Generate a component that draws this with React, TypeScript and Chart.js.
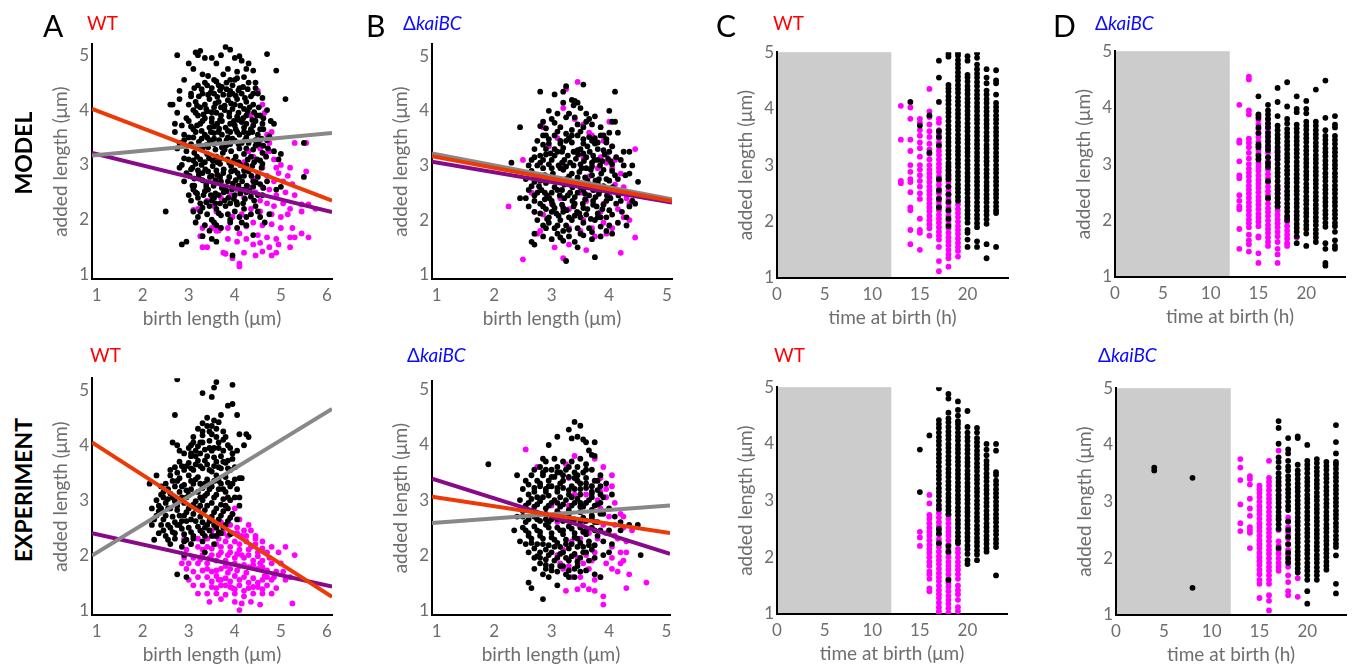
import React, { useEffect, useRef } from 'react';
import { Chart, registerables } from 'chart.js';
Chart.register(...registerables);

const FONT = 'Lato, "Open Sans", sans-serif';
const TXT = '#6e6e6e';
const ORANGE = '#ec3a06';
const GRAY = '#888888';
const PURPLE = '#880a88';
const MAGENTA = '#ff00ff';

// ---------- tick labels ----------
const lenTicks = [1, 2, 3, 4, 5];
const birthTicksA = [1, 2, 3, 4, 5, 6];
const birthTicksB = [1, 2, 3, 4, 5];
const timeTicks = [0, 5, 10, 15, 20];
const nightShade = [0, 12];

// ---------- A (MODEL, WT): birth length vs added length ----------
const aTopBlack = [
  2.75,5.0, 3.15,5.05, 3.2,5.0, 3.25,5.08, 3.35,4.95, 3.0,4.85, 3.1,4.75, 3.5,4.95, 3.6,4.85, 3.8,5.15, 3.9,5.1, 3.7,5.0,
  4.0,4.95, 4.1,4.98, 4.15,4.9, 4.3,4.85, 4.25,4.75, 4.4,4.72, 4.7,5.02, 4.9,4.72, 3.85,4.75, 4.05,4.7, 4.0,4.55, 3.75,4.65,
  3.3,4.65, 3.55,4.55, 3.9,4.55, 4.2,4.6, 2.9,4.55, 3.4,4.45, 3.65,4.45, 4.1,4.4, 4.45,4.5, 5.1,4.2, 2.65,4.1, 2.8,4.35, 3.05,4.3,
  3.2,4.45, 3.35,4.5, 3.5,4.4, 3.6,4.52, 3.72,4.42, 3.82,4.5, 3.95,4.45, 4.05,4.58, 4.18,4.42, 4.3,4.5, 3.42,4.62, 3.9,4.35,
  2.8,4.2, 3.05,4.25, 3.15,4.15, 3.3,4.3, 3.45,4.2, 3.55,4.3, 3.65,4.15, 3.75,4.28, 3.85,4.18, 3.95,4.3, 4.05,4.2, 4.15,4.3,
  4.25,4.15, 4.35,4.25, 4.5,4.3, 4.6,4.22, 3.35,4.1, 3.7,4.05, 4.0,4.1, 4.4,4.1,
  2.75,3.95, 2.95,3.85, 3.1,4.0, 3.2,3.9, 3.3,3.8, 3.4,3.98, 3.5,3.85, 3.6,3.95, 3.68,3.82, 3.78,4.0, 3.88,3.88, 3.98,3.8,
  4.08,3.95, 4.18,3.85, 4.28,3.98, 4.38,3.82, 4.48,3.9, 4.62,3.85, 4.78,3.8, 4.85,3.75, 3.25,4.05, 3.55,4.05, 3.95,4.02, 4.2,4.02,
  2.7,3.6, 2.9,3.55, 3.05,3.7, 3.15,3.6, 3.25,3.75, 3.35,3.55, 3.45,3.68, 3.55,3.58, 3.62,3.75, 3.72,3.55, 3.8,3.68, 3.9,3.6,
  4.0,3.72, 4.1,3.55, 4.2,3.68, 4.3,3.58, 4.4,3.72, 4.5,3.55, 4.62,3.65, 4.75,3.52, 3.0,3.5, 3.4,3.5, 3.85,3.5, 4.25,3.5, 3.5,3.78, 4.15,3.78,
  2.8,3.4, 2.95,3.25, 3.05,3.38, 3.12,3.22, 3.22,3.42, 3.3,3.3, 3.4,3.2, 3.48,3.4, 3.58,3.28, 3.66,3.45, 3.74,3.22, 3.82,3.36,
  3.92,3.25, 4.0,3.44, 4.1,3.3, 4.2,3.2, 4.3,3.4, 4.4,3.28, 4.52,3.38, 4.6,3.22, 4.72,3.3, 4.85,3.25, 5.0,3.2, 3.55,3.48, 3.95,3.48, 4.45,3.45,
  2.85,3.0, 3.0,3.1, 3.08,2.95, 3.18,3.15, 3.28,3.0, 3.36,2.92, 3.44,3.12, 3.52,2.98, 3.6,3.15, 3.68,3.02, 3.76,2.92, 3.84,3.1,
  3.92,2.98, 4.02,3.15, 4.12,3.0, 4.2,2.9, 4.28,3.1, 4.38,2.98, 4.48,3.1, 4.58,2.95, 3.2,2.9, 3.6,2.9, 4.0,2.9, 2.95,2.85,
  2.9,2.7, 3.02,2.8, 3.12,2.62, 3.22,2.75, 3.3,2.85, 3.38,2.65, 3.46,2.78, 3.54,2.62, 3.62,2.82, 3.7,2.7, 3.8,2.6, 3.88,2.78,
  3.96,2.66, 4.06,2.85, 4.16,2.7, 4.26,2.62, 4.36,2.8, 4.46,2.68, 4.62,2.58, 4.9,2.55, 3.1,2.55,
  3.05,2.35, 3.15,2.5, 3.25,2.3, 3.32,2.45, 3.42,2.55, 3.5,2.35, 3.58,2.48, 3.68,2.3, 3.76,2.5, 3.86,2.4, 3.94,2.55, 4.04,2.32,
  4.12,2.48, 4.22,2.38, 4.32,2.52, 4.42,2.35, 4.5,2.45, 3.0,2.45,
  3.1,2.15, 3.2,2.05, 3.3,2.22, 3.4,2.1, 3.5,2.0, 3.6,2.2, 3.7,2.08, 3.8,2.25, 3.9,2.0, 4.0,2.15, 4.1,2.05, 4.2,2.2, 4.35,2.1, 4.45,2.25, 4.55,2.05,
  3.35,1.9, 3.45,1.8, 3.55,1.95, 3.7,1.85, 3.9,1.95, 4.05,1.85, 4.25,1.9, 4.4,1.72, 3.3,1.7, 3.6,1.6, 2.85,1.55, 2.95,1.6,
  3.5,1.65, 3.95,1.35, 4.65,1.95, 4.75,2.1,
  2.5,2.15, 2.6,4.1, 2.7,3.75, 5.5,3.4, 5.5,2.78, 5.0,2.6, 4.95,3.1, 2.75,3.3, 2.8,2.95,
];
const aTopBlackCore = [
  3.28,4.38, 3.48,4.32, 3.68,4.36, 3.88,4.28, 4.08,4.36, 4.28,4.38, 4.45,4.4, 3.12,4.4,
  3.0,4.1, 3.18,4.08, 3.38,4.02, 3.58,4.12, 3.78,4.08, 3.92,4.12, 4.12,4.08, 4.32,4.05, 4.52,4.05, 4.7,4.0,
  2.85,3.72, 3.0,3.8, 3.18,3.72, 3.35,3.85, 3.55,3.7, 3.72,3.8, 3.9,3.75, 4.08,3.82, 4.25,3.75, 4.45,3.8, 4.6,3.75,
  2.9,3.45, 3.1,3.5, 3.28,3.48, 3.45,3.45, 3.65,3.6, 3.82,3.45, 4.05,3.6, 4.22,3.45, 4.38,3.6, 4.58,3.48, 4.7,3.45,
  2.9,3.12, 3.1,3.08, 3.25,3.1, 3.42,3.32, 3.62,3.05, 3.78,3.28, 3.98,3.08, 4.15,3.4, 4.35,3.15, 4.55,3.08, 4.68,3.15,
  3.05,2.92, 3.22,2.82, 3.42,2.88, 3.58,2.72, 3.75,2.85, 3.92,2.88, 4.1,2.78, 4.3,2.88, 4.5,2.78, 4.7,2.7,
  3.08,2.62, 3.2,2.4, 3.38,2.6, 3.55,2.4, 3.72,2.58, 3.9,2.3, 4.08,2.62, 4.25,2.5, 4.4,2.6, 4.6,2.45,
  3.25,2.15, 3.45,2.25, 3.65,2.12, 3.85,2.1, 4.05,2.28, 4.25,2.05, 4.5,2.15, 3.15,1.95, 3.6,1.9, 4.15,1.95,
];
const aTopBlackFill = [
  3.22,4.25, 3.42,4.28, 3.62,4.24, 3.82,4.38, 4.02,4.26, 4.22,4.22, 4.4,4.3,
  3.15,3.95, 3.32,3.92, 3.5,3.96, 3.7,3.9, 3.88,3.95, 4.05,3.88, 4.25,3.9, 4.42,3.96, 4.55,3.9,
  3.1,3.65, 3.28,3.62, 3.48,3.6, 3.66,3.66, 3.85,3.62, 4.02,3.65, 4.2,3.6, 4.35,3.65, 4.55,3.65,
  3.18,3.32, 3.38,3.36, 3.55,3.38, 3.72,3.32, 3.9,3.38, 4.08,3.38, 4.25,3.3, 4.45,3.35, 4.62,3.35,
  3.15,3.02, 3.35,3.05, 3.52,3.08, 3.7,3.12, 3.88,3.04, 4.08,3.05, 4.25,3.0, 4.42,3.05, 4.6,3.02,
  3.12,2.75, 3.3,2.72, 3.5,2.8, 3.68,2.78, 3.85,2.7, 4.02,2.72, 4.2,2.8, 4.4,2.7, 4.55,2.65,
  3.18,2.48, 3.35,2.52, 3.48,2.45, 3.65,2.45, 3.82,2.52, 4.0,2.45, 4.18,2.55, 4.35,2.42,
  3.38,2.32, 3.58,2.3, 3.78,2.35, 3.98,2.38, 4.18,2.3,
];
const aTopMagenta = [
  4.5,4.35, 4.7,3.55, 4.8,3.6, 5.3,3.4, 5.55,3.4, 4.55,3.3, 4.65,3.2, 4.75,3.25, 4.85,3.1, 4.4,3.15, 4.3,3.25, 5.0,3.0,
  5.2,2.95, 4.95,2.85, 4.6,2.95, 4.5,2.85, 4.7,2.8, 4.85,2.7, 5.05,2.7, 5.25,2.65, 5.55,2.88, 4.4,2.75, 4.6,2.6, 4.75,2.55,
  4.9,2.45, 5.1,2.5, 5.3,2.45, 4.45,2.5, 4.3,2.6, 4.2,2.4, 4.05,2.55, 3.9,2.45, 3.7,2.4, 3.55,2.25, 3.2,2.2, 3.4,2.35,
  4.55,2.35, 4.7,2.3, 4.85,2.25, 5.05,2.3, 5.2,2.2, 5.45,2.28, 5.6,2.28, 5.75,2.2, 4.35,2.2, 4.55,2.15, 4.8,2.1, 5.0,2.05,
  5.15,2.1, 5.45,2.15, 4.15,2.1, 3.95,2.05, 4.4,1.95, 4.6,1.9, 4.8,1.92, 5.0,1.85, 5.25,1.85, 4.25,1.88, 3.85,1.85, 3.65,1.8,
  3.5,1.85, 3.3,1.85, 4.1,1.75, 4.5,1.72, 4.7,1.68, 4.9,1.65, 5.2,1.68, 5.6,1.68, 5.3,1.68, 3.3,1.5, 3.4,1.5, 3.6,1.8,
  3.85,1.65, 4.05,1.6, 4.25,1.65, 4.4,1.55, 4.55,1.58, 4.75,1.5, 4.95,1.55, 5.2,1.5, 3.75,1.4, 4.1,1.15, 4.1,1.2, 4.45,1.35,
  4.6,1.42, 4.8,1.35, 4.9,1.4, 3.8,1.38, 3.95,1.3, 4.2,1.4, 5.45,1.75, 4.6,4.1, 4.65,3.95, 4.35,3.9, 4.55,3.45, 4.75,3.4,
  4.2,3.05, 4.9,2.95, 5.15,2.8, 3.6,2.15, 3.1,2.18, 3.25,1.7,
];
const aTopFitX = [0.9, 6.11];
const aTopOrange = [4.02, 2.35];
const aTopGray = [3.17, 3.58];
const aTopPurple = [3.22, 2.14];

// ---------- B (MODEL, ΔkaiBC) ----------
const bTopBlack = [
  3.25,4.45, 3.55,4.48, 2.8,4.35, 3.2,4.35, 3.05,4.3, 4.1,4.35, 3.35,4.2, 3.4,4.18, 3.45,4.15, 3.38,4.1, 3.2,4.15, 3.5,4.05,
  2.95,4.0, 3.1,3.95, 3.3,3.95, 3.6,3.95, 3.25,3.88, 4.0,4.0, 3.75,3.9, 4.05,3.8, 2.85,3.8, 3.05,3.78, 3.6,3.8, 3.45,3.75,
  2.8,3.72, 2.9,3.68, 3.15,3.7, 3.35,3.65, 3.55,3.7, 3.7,3.75, 3.85,3.7, 4.0,3.6, 2.45,3.7, 4.15,3.6,
  2.75,3.45, 2.85,3.55, 2.95,3.4, 3.05,3.55, 3.15,3.45, 3.25,3.58, 3.35,3.42, 3.45,3.55, 3.55,3.4, 3.65,3.52, 3.75,3.4,
  3.85,3.55, 3.95,3.42, 4.05,3.35, 2.9,3.3, 3.2,3.32, 3.5,3.3, 3.8,3.3, 4.25,3.25,
  2.6,3.0, 2.7,3.15, 2.8,3.05, 2.9,3.2, 3.0,3.1, 3.1,3.25, 3.18,3.05, 3.28,3.18, 3.38,3.0, 3.46,3.2, 3.56,3.08, 3.66,3.25,
  3.74,3.1, 3.84,3.0, 3.92,3.2, 4.02,3.08, 4.12,3.15, 4.25,3.0, 4.35,2.85, 2.3,3.05, 3.0,2.95, 3.6,2.95,
  2.55,2.75, 2.65,2.9, 2.75,2.8, 2.85,2.95, 2.92,2.72, 3.02,2.85, 3.12,2.75, 3.2,2.92, 3.3,2.8, 3.4,2.7, 3.48,2.88, 3.58,2.78,
  3.68,2.92, 3.76,2.72, 3.86,2.85, 3.95,2.75, 4.05,2.9, 4.15,2.75, 4.28,2.82, 3.25,2.98, 3.7,2.98,
  2.45,2.4, 2.6,2.55, 2.7,2.45, 2.78,2.62, 2.88,2.5, 2.96,2.4, 3.05,2.6, 3.14,2.45, 3.22,2.65, 3.32,2.5, 3.4,2.42, 3.5,2.6,
  3.58,2.48, 3.68,2.65, 3.76,2.42, 3.86,2.55, 3.96,2.45, 4.06,2.6, 4.16,2.45, 4.3,2.5, 4.4,2.35, 2.9,2.68, 3.35,2.68, 3.8,2.68,
  2.6,2.25, 2.7,2.15, 2.8,2.3, 2.9,2.2, 3.0,2.35, 3.08,2.12, 3.18,2.28, 3.26,2.18, 3.36,2.35, 3.44,2.15, 3.54,2.3, 3.62,2.2,
  3.72,2.35, 3.8,2.12, 3.9,2.28, 4.0,2.18, 4.12,2.3, 4.22,2.15, 4.35,2.25, 2.95,2.05, 3.5,2.05, 3.95,2.05,
  2.75,2.0, 2.85,1.9, 2.95,1.95, 3.05,1.85, 3.15,2.0, 3.25,1.9, 3.35,2.0, 3.45,1.85, 3.55,1.95, 3.65,1.85, 3.75,2.0, 3.85,1.88,
  4.0,1.9, 4.15,1.95, 4.3,1.9, 3.2,1.8,
  2.7,1.75, 2.85,1.7, 3.0,1.65, 3.1,1.75, 3.2,1.62, 3.3,1.7, 3.4,1.6, 3.55,1.72, 3.7,1.65, 3.85,1.7, 4.05,1.75, 2.65,1.6,
  2.7,1.55, 3.45,1.5, 3.25,1.25, 3.75,1.32, 3.15,1.68,
  4.1,3.8, 4.35,3.25, 4.5,2.7, 4.4,3.0, 4.45,2.3, 4.3,2.05, 2.55,2.4,
];
const bTopBlackCore = [
  2.9,3.55, 3.1,3.62, 3.3,3.5, 3.5,3.62, 3.7,3.45, 3.9,3.55, 3.0,3.85, 3.4,3.88, 3.65,3.85,
  2.7,3.3, 2.85,3.38, 3.05,3.3, 3.25,3.45, 3.45,3.28, 3.62,3.35, 3.8,3.42, 4.0,3.25,
  2.65,3.1, 2.85,3.1, 3.05,3.18, 3.22,3.1, 3.42,3.12, 3.6,3.15, 3.8,3.1, 3.98,3.12, 4.2,3.1,
  2.6,2.85, 2.8,2.72, 2.98,2.78, 3.15,2.95, 3.35,2.85, 3.52,2.95, 3.7,2.82, 3.9,2.92, 4.1,2.82,
  2.65,2.62, 2.82,2.55, 3.0,2.5, 3.18,2.55, 3.36,2.6, 3.55,2.55, 3.72,2.55, 3.9,2.62, 4.1,2.52,
  2.7,2.35, 2.88,2.38, 3.05,2.22, 3.22,2.4, 3.4,2.3, 3.58,2.38, 3.78,2.25, 3.95,2.35, 4.2,2.35,
  2.8,2.12, 3.0,2.15, 3.2,2.15, 3.4,2.08, 3.6,2.1, 3.8,2.05, 4.05,2.1,
  2.9,1.85, 3.1,1.9, 3.3,1.82, 3.5,1.75, 3.7,1.78, 3.95,1.8,
];
const bTopBlackFill = [
  2.95,3.48, 3.15,3.4, 3.35,3.55, 3.55,3.48, 3.75,3.5, 3.95,3.48,
  2.8,3.18, 2.98,3.22, 3.18,3.25, 3.38,3.25, 3.55,3.22, 3.72,3.18, 3.9,3.28,
  2.75,3.0, 2.95,3.02, 3.12,3.0, 3.32,3.05, 3.5,3.02, 3.7,3.05, 3.88,3.08, 4.05,3.02,
  2.7,2.7, 2.88,2.82, 3.08,2.7, 3.25,2.75, 3.45,2.78, 3.62,2.72, 3.82,2.75, 4.0,2.72,
  2.75,2.5, 2.92,2.45, 3.1,2.55, 3.28,2.45, 3.45,2.5, 3.65,2.45, 3.82,2.48, 4.02,2.4,
  2.85,2.25, 3.02,2.28, 3.2,2.22, 3.38,2.25, 3.55,2.22, 3.72,2.28, 3.88,2.2,
  2.92,2.02, 3.12,2.08, 3.3,2.05, 3.48,2.12, 3.68,2.02, 3.85,2.05,
];
const bTopMagenta = [
  3.25,4.4, 3.45,4.53, 2.5,3.1, 2.25,2.25, 2.5,1.28, 3.2,4.05, 3.3,3.95, 3.4,3.85, 3.55,3.75, 2.85,3.7, 3.7,3.55, 3.9,3.45,
  4.05,3.35, 4.45,3.3, 4.0,3.8, 3.85,3.15, 3.95,3.05, 4.05,2.95, 4.2,2.85, 4.1,2.65, 4.25,2.6, 4.3,2.4, 4.15,2.2, 4.25,2.05,
  4.35,2.0, 4.05,1.85, 4.2,1.4, 4.45,1.68, 4.4,2.35, 4.35,2.3, 3.6,1.45, 3.3,1.55, 3.05,1.5, 3.2,1.3, 3.5,1.8, 3.7,1.85,
  3.75,1.7, 3.9,1.95, 3.95,1.75, 2.8,1.8, 2.75,1.75, 2.7,2.15, 2.85,2.1, 2.65,2.5, 2.8,2.55, 3.0,2.3, 3.15,2.4, 3.3,2.2,
  3.5,2.5, 3.6,2.35, 3.75,2.55, 3.65,2.8, 3.8,2.95, 3.55,3.15, 3.4,3.25, 3.2,3.0, 3.0,2.8, 2.95,3.35, 3.1,3.5, 3.9,2.3,
  4.0,2.45, 3.85,2.15, 3.3,1.85, 3.55,2.0, 3.95,3.2, 4.1,3.1, 3.3,2.65, 3.65,3.6,
];
const bTopFitX = [0.92, 5.09];
const bTopOrange = [3.17, 2.35];
const bTopGray = [3.22, 2.38];
const bTopPurple = [3.07, 2.32];

// ---------- C (MODEL, WT): time at birth, columns [hour, added lengths] ----------
const cTopMagenta: [number, number[]][] = [
  [13, [4.05, 3.45, 2.72, 2.68]],
  [14, [4.02, 3.82, 3.45, 3.25, 3.0, 2.88, 2.75, 2.7, 2.52, 2.25, 2.2, 1.85, 1.6]],
  [15, [3.82, 3.75, 3.62, 3.52, 3.4, 3.3, 3.15, 3.0, 2.92, 2.82, 2.72, 2.62, 2.5, 2.4, 2.05, 1.85, 1.8, 1.5]],
  [16, [4.35, 3.95, 3.85, 3.72, 3.6, 3.5, 3.38, 3.28, 3.2, 3.1, 3.0, 2.92, 2.85, 2.78, 2.7, 2.62, 2.55, 2.48, 2.4, 2.32, 2.25, 2.18, 2.1, 2.02, 1.95, 1.88, 1.75]],
  [17, [3.82, 3.75, 3.62, 3.55, 3.48, 3.4, 3.32, 3.25, 3.18, 3.1, 3.02, 2.95, 2.88, 2.8, 2.72, 2.65, 2.58, 2.5, 2.42, 2.35, 2.28, 2.2, 2.12, 2.05, 1.98, 1.9, 1.82, 1.75, 1.68, 1.55, 1.3, 1.12]],
  [18, [3.0, 2.92, 2.85, 2.78, 2.7, 2.62, 2.55, 2.48, 2.4, 2.32, 2.25, 2.18, 2.1, 2.02, 1.95, 1.88, 1.8, 1.72, 1.65, 1.58, 1.5, 1.42, 1.35, 1.2]],
  [19, [2.3, 2.22, 2.15, 2.08, 2.0, 1.92, 1.85, 1.78, 1.7, 1.62, 1.55, 1.48, 1.38]],
];
const cTopBlack: [number, number[]][] = [
  [14, [4.12]],
  [15, [3.7]],
  [16, [3.22, 3.88]],
  [17, [4.85, 4.55, 4.12, 3.6, 3.5, 3.35, 2.75, 2.55, 2.4, 2.25]],
  [18, [4.97, 4.92, 4.42, 4.36, 4.3, 4.22, 4.15, 4.08, 4.0, 3.93, 3.86, 3.78, 3.7, 3.63, 3.56, 3.48, 3.41, 3.34, 3.26, 3.19, 3.12, 3.04, 2.97, 2.9, 2.82, 2.75, 2.62, 2.48, 2.35, 2.2, 2.05, 1.92]],
  [19, [4.98, 4.94, 4.86, 4.79, 4.72, 4.64, 4.57, 4.5, 4.42, 4.35, 4.28, 4.2, 4.13, 4.06, 3.98, 3.91, 3.84, 3.76, 3.69, 3.62, 3.54, 3.47, 3.4, 3.32, 3.25, 3.18, 3.1, 3.03, 2.96, 2.88, 2.81, 2.74, 2.66, 2.59, 2.52, 2.44, 2.37]],
  [20, [4.93, 4.85, 4.6, 4.55, 4.48, 4.4, 4.33, 4.26, 4.18, 4.11, 4.04, 3.96, 3.89, 3.82, 3.74, 3.67, 3.6, 3.52, 3.45, 3.38, 3.3, 3.23, 3.16, 3.08, 3.01, 2.94, 2.86, 2.79, 2.72, 2.64, 2.57, 2.5, 2.42, 2.35, 2.28, 2.2, 2.13, 2.06, 1.98, 1.85, 1.8, 1.68, 1.55]],
  [21, [4.98, 4.9, 4.78, 4.7, 4.62, 4.55, 4.47, 4.4, 4.32, 4.25, 4.18, 4.1, 4.03, 3.96, 3.88, 3.81, 3.74, 3.66, 3.59, 3.52, 3.44, 3.37, 3.3, 3.22, 3.15, 3.08, 3.0, 2.93, 2.86, 2.78, 2.71, 2.64, 2.56, 2.49, 2.42, 2.34, 2.27, 2.2, 2.12, 2.05, 1.97, 1.9, 1.65, 1.55]],
  [22, [4.7, 4.55, 4.45, 4.32, 4.25, 4.17, 4.1, 4.02, 3.95, 3.88, 3.8, 3.73, 3.66, 3.58, 3.51, 3.44, 3.36, 3.29, 3.22, 3.14, 3.07, 3.0, 2.92, 2.85, 2.78, 2.7, 2.63, 2.56, 2.48, 2.41, 2.34, 2.26, 2.19, 2.12, 2.04, 1.96, 1.6, 1.35]],
  [23, [4.68, 4.5, 4.45, 4.25, 4.1, 4.03, 3.96, 3.88, 3.81, 3.74, 3.66, 3.59, 3.52, 3.44, 3.37, 3.3, 3.22, 3.15, 3.08, 3.0, 2.93, 2.86, 2.78, 2.71, 2.64, 2.56, 2.49, 2.42, 2.34, 2.27, 2.2, 2.15, 1.55]],
];

// ---------- D (MODEL, ΔkaiBC) ----------
const dTopMagenta: [number, number[]][] = [
  [13, [4.05, 3.42, 3.38, 3.05, 2.8, 2.75, 2.45, 2.35, 2.25, 2.2, 1.85, 1.5]],
  [14, [4.55, 4.5, 3.95, 3.88, 3.45, 3.38, 3.3, 3.2, 3.1, 3.0, 2.92, 2.85, 2.78, 2.7, 2.62, 2.55, 2.48, 2.4, 2.32, 2.25, 2.18, 2.1, 2.02, 1.95, 1.88, 1.75, 1.65, 1.58, 1.45]],
  [15, [3.85, 3.78, 3.7, 3.62, 3.55, 3.48, 3.4, 3.32, 3.25, 3.18, 3.1, 3.02, 2.95, 2.88, 2.8, 2.72, 2.65, 2.58, 2.5, 2.42, 2.35, 2.28, 2.2, 2.12, 2.05, 1.98, 1.9, 1.72, 1.7, 1.42, 1.25]],
  [16, [3.8, 3.72, 3.65, 3.58, 3.5, 3.42, 3.35, 3.28, 3.2, 3.12, 3.05, 2.98, 2.9, 2.82, 2.75, 2.68, 2.6, 2.52, 2.45, 2.38, 2.3, 2.22, 2.15, 2.08, 2.0, 1.92, 1.85, 1.78, 1.7, 1.62, 1.55]],
  [17, [3.25, 3.2, 3.1, 2.6, 2.55, 2.48, 2.4, 2.32, 2.25, 2.18, 2.1, 2.02, 1.95, 1.88, 1.8, 1.72, 1.62, 1.5, 1.4, 1.25]],
  [18, [2.05, 1.98, 1.9, 1.82, 1.75, 1.68, 1.6, 1.55]],
  [19, [1.7]],
];
const dTopBlack: [number, number[]][] = [
  [15, [4.2, 3.88, 3.82, 3.65, 3.55, 3.35, 3.3, 3.15, 3.08]],
  [16, [4.05, 3.95, 3.88, 3.8, 3.72, 3.65, 3.55, 3.48, 3.4, 3.32, 3.25, 3.12, 3.02, 2.95, 2.7, 2.4]],
  [17, [4.35, 4.1, 3.85, 3.68, 3.6, 3.52, 3.45, 3.38, 3.3, 3.22, 3.15, 3.08, 3.0, 2.92, 2.85, 2.78, 2.7, 2.62, 2.55, 2.48, 2.4, 2.32, 2.25]],
  [18, [4.45, 4.02, 3.8, 3.72, 3.62, 3.55, 3.48, 3.4, 3.33, 3.26, 3.18, 3.11, 3.04, 2.96, 2.89, 2.82, 2.74, 2.67, 2.6, 2.52, 2.45, 2.38, 2.3, 2.23, 2.16, 2.08, 2.01]],
  [19, [4.2, 3.98, 3.92, 3.7, 3.63, 3.56, 3.48, 3.41, 3.34, 3.26, 3.19, 3.12, 3.04, 2.97, 2.9, 2.82, 2.75, 2.68, 2.6, 2.53, 2.46, 2.38, 2.31, 2.24, 2.16, 2.09, 2.02, 1.94, 1.87, 1.8, 1.72, 1.6]],
  [20, [4.12, 3.98, 3.9, 3.75, 3.68, 3.61, 3.53, 3.46, 3.39, 3.31, 3.24, 3.17, 3.09, 3.02, 2.95, 2.87, 2.8, 2.73, 2.65, 2.58, 2.51, 2.43, 2.36, 2.29, 2.21, 2.14, 2.07, 1.99, 1.92, 1.85, 1.77, 1.55]],
  [21, [4.32, 3.75, 3.68, 3.6, 3.53, 3.46, 3.38, 3.31, 3.24, 3.16, 3.09, 3.02, 2.94, 2.87, 2.8, 2.72, 2.65, 2.58, 2.5, 2.43, 2.36, 2.28, 2.21, 2.14, 2.06, 1.99, 1.92, 1.84, 1.77, 1.7, 1.62]],
  [22, [4.48, 3.82, 3.6, 3.5, 3.43, 3.36, 3.28, 3.21, 3.14, 3.06, 2.99, 2.92, 2.84, 2.77, 2.7, 2.62, 2.55, 2.48, 2.4, 2.33, 2.26, 2.18, 2.11, 2.04, 1.96, 1.89, 1.6, 1.5, 1.25, 1.2]],
  [23, [3.85, 3.7, 3.65, 3.5, 3.43, 3.36, 3.28, 3.21, 3.14, 3.06, 2.99, 2.92, 2.84, 2.77, 2.7, 2.62, 2.55, 2.48, 2.4, 2.33, 2.26, 2.18, 2.11, 2.04, 1.96, 1.9, 1.8, 1.65, 1.55, 1.5]],
];

// ---------- A (EXPERIMENT, WT) ----------
const aBotBlack = [
  2.75,5.2, 3.6,5.15, 3.55,5.05, 3.95,5.1, 3.3,4.95, 3.5,4.88, 3.85,4.72, 3.95,4.75, 2.7,4.55, 3.7,4.55, 4.05,4.55, 3.55,4.45,
  3.4,4.5, 3.5,4.35, 3.3,4.4, 3.6,4.3, 3.75,4.25, 3.65,4.42, 3.45,4.25, 3.2,4.3, 3.1,4.15, 3.3,4.18, 4.1,4.2, 4.25,4.2,
  4.3,4.15, 2.65,4.05, 2.75,4.0, 3.0,3.95,
  2.9,3.85, 3.05,4.0, 3.15,3.9, 3.25,4.05, 3.35,3.92, 3.45,4.08, 3.55,3.95, 3.65,4.05, 3.75,3.9, 3.85,4.0, 3.95,3.85, 3.4,3.8, 3.7,3.8, 2.8,3.9,
  2.7,3.6, 2.8,3.7, 2.9,3.55, 3.0,3.68, 3.1,3.55, 3.2,3.72, 3.3,3.58, 3.4,3.65, 3.5,3.52, 3.6,3.7, 3.7,3.58, 3.8,3.68,
  3.9,3.55, 4.0,3.6, 4.1,3.4, 3.15,3.8, 3.55,3.78, 3.95,3.75, 2.6,3.55,
  2.5,3.3, 2.6,3.45, 2.7,3.25, 2.8,3.4, 2.9,3.28, 3.0,3.45, 3.1,3.3, 3.2,3.42, 3.3,3.22, 3.4,3.38, 3.5,3.25, 3.6,3.45,
  3.7,3.3, 3.8,3.42, 3.9,3.25, 4.0,3.38, 4.05,3.2, 2.15,3.3, 2.3,3.45, 2.45,3.15,
  2.3,3.0, 2.4,3.1, 2.5,2.95, 2.6,3.12, 2.7,2.98, 2.8,3.15, 2.9,2.95, 3.0,3.1, 3.1,2.92, 3.2,3.15, 3.3,3.0, 3.4,3.12,
  3.5,2.95, 3.6,3.1, 3.7,2.92, 3.8,3.15, 3.9,3.0, 4.0,3.05, 2.2,2.85, 3.25,2.9,
  2.25,2.65, 2.35,2.8, 2.45,2.65, 2.55,2.85, 2.65,2.7, 2.75,2.82, 2.85,2.62, 2.95,2.78, 3.05,2.65, 3.15,2.85, 3.25,2.7,
  3.35,2.82, 3.45,2.62, 3.55,2.78, 3.65,2.65, 3.75,2.8, 3.85,2.62, 3.95,2.75, 4.05,2.65, 2.2,2.55, 2.4,2.55,
  2.35,2.4, 2.5,2.35, 2.6,2.5, 2.7,2.4, 2.8,2.55, 2.9,2.38, 3.0,2.5, 3.1,2.35, 3.2,2.52, 3.3,2.4, 3.4,2.55, 3.5,2.35,
  3.6,2.5, 3.7,2.4, 3.8,2.55, 3.9,2.38, 2.25,2.28,
  2.6,2.2, 2.85,2.15, 3.05,2.2, 3.3,2.25, 3.55,2.2, 2.9,2.0, 3.35,2.05, 2.75,1.65, 2.95,1.6,
  4.1,3.05, 4.15,3.4, 4.2,4.0, 4.05,3.9, 4.1,2.9,
];
const aBotBlackCore = [
  3.3,4.05, 3.5,4.2, 3.4,4.35, 3.6,4.15, 3.2,3.98, 3.05,3.85, 3.5,3.9, 3.75,4.1, 3.9,3.95,
  2.95,3.62, 3.15,3.65, 3.35,3.72, 3.55,3.62, 3.75,3.7, 3.85,3.58, 2.75,3.5, 3.05,3.8,
  2.55,3.2, 2.75,3.35, 2.95,3.18, 3.15,3.38, 3.35,3.3, 3.55,3.35, 3.75,3.2, 3.95,3.3, 2.4,3.25,
  2.35,2.9, 2.55,3.02, 2.75,2.9, 2.95,3.05, 3.15,2.98, 3.35,3.08, 3.55,3.05, 3.75,3.02, 3.85,2.85,
  2.3,2.72, 2.5,2.72, 2.7,2.6, 2.9,2.72, 3.1,2.75, 3.3,2.6, 3.5,2.7, 3.7,2.72, 3.9,2.68,
  2.45,2.45, 2.65,2.42, 2.85,2.48, 3.05,2.42, 3.25,2.45, 3.45,2.45, 3.65,2.42, 2.55,2.28, 2.95,2.28,
];
const aBotBlackFill = [
  3.1,4.05, 3.3,4.25, 3.45,3.95, 3.65,3.95, 3.8,4.15, 3.25,3.85,
  2.85,3.62, 3.05,3.58, 3.25,3.62, 3.45,3.55, 3.65,3.6, 3.85,3.72,
  2.65,3.35, 2.85,3.25, 3.05,3.35, 3.25,3.3, 3.45,3.3, 3.65,3.35, 3.85,3.32,
  2.45,3.05, 2.65,3.05, 2.85,3.05, 3.05,3.2, 3.25,3.05, 3.45,3.2, 3.65,3.2, 3.85,3.05,
  2.4,2.85, 2.6,2.85, 2.8,2.72, 3.0,2.85, 3.2,2.85, 3.4,2.9, 3.6,2.85, 3.8,2.9,
  2.55,2.55, 2.75,2.55, 2.95,2.62, 3.15,2.62, 3.35,2.5, 3.55,2.55, 3.75,2.5,
  2.7,2.3, 2.9,2.25, 3.1,2.3, 3.35,2.35, 3.6,2.35,
];
const aBotMagenta = [
  3.8,2.9, 3.95,2.75, 4.1,2.65, 3.7,2.6, 3.9,2.55, 4.05,2.5, 4.2,2.45, 4.35,2.45, 4.45,2.35, 4.15,2.35, 3.95,2.4, 3.75,2.4,
  3.55,2.35, 3.4,2.3, 3.2,2.3, 3.05,2.2, 2.95,2.1, 3.2,2.15, 3.4,2.15, 3.6,2.2, 3.8,2.25, 4.0,2.25, 4.25,2.25, 4.45,2.2,
  4.6,2.25, 4.8,2.15, 5.1,2.15, 4.95,2.05, 4.7,2.05, 4.5,2.05, 4.3,2.1, 4.1,2.1, 3.9,2.05, 3.7,2.05, 3.5,2.0, 3.3,2.0,
  3.1,1.95, 2.9,1.95, 3.0,1.85, 3.2,1.85, 3.4,1.85, 3.6,1.9, 3.8,1.9, 4.0,1.95, 4.2,1.95, 4.4,1.9, 4.6,1.9, 4.8,1.85,
  5.0,1.85, 4.9,1.7, 4.7,1.72, 4.5,1.75, 4.3,1.78, 4.1,1.8, 3.9,1.75, 3.7,1.75, 3.5,1.7, 3.3,1.72, 3.1,1.7, 2.95,1.75,
  3.0,1.55, 3.2,1.6, 3.4,1.6, 3.6,1.62, 3.8,1.58, 4.0,1.62, 4.2,1.6, 4.4,1.58, 4.6,1.55, 4.8,1.55, 5.1,1.55, 5.2,1.6,
  4.85,1.6, 3.1,1.45, 3.3,1.45, 3.5,1.42, 3.7,1.45, 3.9,1.42, 4.1,1.45, 4.3,1.4, 4.5,1.42, 4.7,1.45, 4.9,1.4, 3.2,1.3,
  3.4,1.3, 3.6,1.3, 3.8,1.28, 4.0,1.3, 4.2,1.25, 4.4,1.3, 4.6,1.3, 4.8,1.3, 3.45,1.15, 3.7,1.2, 4.0,1.15, 4.15,1.12,
  4.35,1.15, 4.55,1.1, 4.1,1.0, 5.25,1.12, 2.9,2.3, 2.85,1.85, 3.95,1.4, 4.65,1.62, 4.55,1.85, 4.25,1.68, 4.05,1.72,
  3.85,1.68, 3.65,1.55, 4.75,1.95, 4.15,2.0, 4.3,2.55, 4.0,2.85, 5.05,1.7, 5.3,2.0,
  3.5,2.45, 3.65,2.3, 3.85,2.35, 4.05,2.4, 4.25,2.35, 4.45,2.3, 3.3,2.1, 3.5,2.12, 3.7,2.15, 3.9,2.15, 4.1,2.2, 4.35,2.15,
  4.6,2.12, 3.25,1.92, 3.45,1.95, 3.65,2.0, 3.85,2.0, 4.05,2.02, 4.3,2.0, 4.5,1.98, 3.4,1.75, 3.6,1.72, 3.8,1.8, 4.0,1.85,
  4.2,1.82, 4.4,1.82, 4.6,1.78, 3.5,1.52, 3.7,1.55, 3.9,1.52, 4.1,1.55, 4.3,1.5, 4.5,1.5, 4.7,1.6, 3.6,1.4, 3.8,1.45,
  4.0,1.38, 4.2,1.35, 4.4,1.42, 4.6,1.38,
];
const aBotFitX = [0.9, 6.11];
const aBotOrange = [4.05, 1.24];
const aBotGray = [1.99, 4.66];
const aBotPurple = [2.4, 1.43];

// ---------- B (EXPERIMENT, ΔkaiBC) ----------
const bBotBlack = [
  3.4,4.42, 3.5,4.35, 3.3,4.28, 3.45,4.15, 3.55,4.1, 3.1,4.15, 3.35,4.12, 2.95,4.0, 3.6,4.05, 3.75,4.05, 3.65,3.9, 3.7,3.82,
  3.75,3.8, 1.9,3.65, 3.05,3.75, 2.85,3.75, 2.9,3.7, 3.2,3.7, 3.35,3.7, 3.5,3.75, 3.6,3.65, 3.45,3.6, 3.3,3.6, 3.1,3.6,
  2.7,3.55, 2.8,3.6, 3.0,3.55, 3.15,3.5, 3.4,3.5, 3.55,3.5, 3.7,3.55, 3.85,3.45, 3.95,3.3, 4.05,3.1, 2.4,3.45, 2.55,3.35,
  2.65,3.45, 2.75,3.35, 2.85,3.45, 2.95,3.35, 3.05,3.42, 3.2,3.35, 3.3,3.42, 3.45,3.35, 3.6,3.4, 3.75,3.35, 3.85,3.25,
  2.5,3.2, 2.6,3.28, 2.7,3.15, 2.8,3.25, 2.9,3.15, 3.0,3.25, 3.1,3.15, 3.2,3.22, 3.3,3.1, 3.4,3.2, 3.5,3.1, 3.6,3.22,
  3.7,3.12, 3.8,3.18, 3.9,3.05,
  2.45,3.0, 2.55,2.9, 2.65,3.02, 2.75,2.92, 2.85,3.05, 2.95,2.9, 3.05,3.0, 3.15,2.88, 3.25,3.0, 3.35,2.9, 3.45,3.02,
  3.55,2.88, 3.65,3.0, 3.75,2.9, 3.85,2.95, 4.0,2.85, 4.1,2.7,
  2.4,2.7, 2.5,2.8, 2.6,2.65, 2.7,2.78, 2.8,2.62, 2.9,2.75, 3.0,2.65, 3.1,2.8, 3.2,2.62, 3.3,2.75, 3.4,2.65, 3.5,2.78,
  3.6,2.62, 3.7,2.72, 3.8,2.6, 3.9,2.75, 4.2,2.6, 4.35,2.55, 4.5,2.55,
  2.35,2.45, 2.5,2.5, 2.6,2.4, 2.7,2.52, 2.8,2.42, 2.9,2.55, 3.0,2.4, 3.1,2.5, 3.2,2.38, 3.3,2.52, 3.4,2.4, 3.5,2.5,
  3.6,2.38, 3.7,2.5, 3.85,2.45, 4.0,2.45, 4.2,2.45,
  2.45,2.25, 2.55,2.2, 2.65,2.3, 2.75,2.2, 2.85,2.3, 2.95,2.18, 3.05,2.28, 3.15,2.15, 3.25,2.28, 3.35,2.2, 3.45,2.3,
  3.55,2.15, 3.65,2.25, 3.75,2.18, 3.9,2.25, 4.05,2.2,
  2.6,2.05, 2.7,1.95, 2.8,2.05, 2.9,1.92, 3.0,2.05, 3.1,1.95, 3.2,2.05, 3.3,1.9, 3.4,2.02, 3.5,1.95, 3.6,2.05, 3.75,1.95,
  3.9,2.0, 4.0,2.05, 4.55,2.0,
  2.7,1.75, 2.8,1.85, 2.9,1.75, 3.0,1.8, 3.1,1.7, 3.2,1.8, 3.3,1.72, 3.45,1.8, 3.6,1.72, 3.75,1.65, 3.85,1.6, 2.85,1.65,
  2.95,1.6, 2.6,1.5, 2.65,1.4, 2.85,1.2, 3.1,1.45, 3.3,1.6, 3.4,1.6,
];
const bBotBlackCore = [
  2.9,3.55, 3.1,3.5, 3.25,3.55, 3.45,3.45, 3.6,3.55, 2.8,3.3, 2.95,3.25, 3.15,3.3, 3.35,3.25, 3.5,3.3, 3.7,3.25, 3.85,3.1,
  2.6,3.1, 2.75,3.05, 2.95,3.08, 3.15,3.05, 3.35,3.05, 3.5,2.95, 3.7,3.05, 2.55,2.85, 2.7,2.88, 2.9,2.85, 3.1,2.95,
  3.3,2.82, 3.5,2.88, 3.7,2.82, 3.85,2.75, 2.55,2.6, 2.75,2.65, 2.95,2.6, 3.15,2.7, 3.35,2.6, 3.55,2.68, 3.75,2.6,
  2.6,2.35, 2.8,2.35, 3.0,2.32, 3.2,2.45, 3.4,2.32, 3.6,2.45, 3.8,2.35, 2.7,2.12, 2.9,2.1, 3.1,2.22, 3.3,2.12,
  3.5,2.22, 3.7,2.1, 2.8,1.95, 3.05,1.9, 3.25,1.95, 3.45,1.88, 3.65,1.9, 3.0,1.72, 3.25,1.65, 3.5,1.7,
];
const bBotBlackFill = [
  3.0,3.42, 3.2,3.45, 3.4,3.4, 3.6,3.3, 3.8,3.35, 2.85,3.5,
  2.7,3.22, 2.9,3.2, 3.1,3.22, 3.3,3.18, 3.5,3.2, 3.7,3.15,
  2.6,2.95, 2.8,2.98, 3.0,2.95, 3.2,2.92, 3.4,2.95, 3.6,2.95, 3.8,2.92,
  2.5,2.7, 2.7,2.7, 2.9,2.65, 3.1,2.65, 3.3,2.68, 3.5,2.62, 3.7,2.68,
  2.55,2.45, 2.75,2.45, 2.95,2.5, 3.15,2.45, 3.35,2.48, 3.55,2.42, 3.75,2.45,
  2.65,2.22, 2.85,2.2, 3.05,2.15, 3.25,2.2, 3.45,2.15, 3.65,2.18,
  2.75,1.98, 2.95,2.0, 3.15,2.02, 3.35,1.98, 3.55,2.05, 2.9,1.82, 3.15,1.8, 3.4,1.75,
];
const bBotMagenta = [
  2.55,3.92, 2.75,3.6, 3.85,3.4, 3.75,3.75, 3.9,3.6, 4.05,3.45, 3.95,3.2, 4.05,3.25, 3.85,3.15, 3.8,3.0, 3.7,3.25, 3.6,3.1,
  3.95,3.05, 4.1,2.95, 4.2,2.75, 4.25,2.7, 4.1,2.55, 4.25,2.5, 4.4,2.45, 4.3,2.25, 4.1,2.35, 3.95,2.4, 4.05,2.15, 4.2,2.05,
  4.05,1.95, 4.2,1.85, 4.35,1.65, 4.3,1.4, 4.65,1.5, 3.9,1.25, 3.9,1.1, 3.85,1.6, 3.65,1.75, 3.7,1.9, 3.55,1.85, 3.45,1.95,
  3.6,2.0, 3.75,2.05, 3.8,2.3, 3.65,2.4, 3.5,2.3, 3.35,2.25, 3.2,2.1, 3.1,2.0, 3.15,1.85, 3.3,1.8, 3.5,1.6, 3.55,1.45,
  3.45,1.38, 3.65,1.38, 3.75,1.35, 3.25,1.35, 3.0,2.9, 3.15,2.75, 3.3,2.9, 3.4,3.1, 3.3,3.4, 3.25,3.65, 3.4,3.8, 3.1,2.6,
  3.55,2.6, 3.7,2.7, 3.85,2.85, 4.0,2.7, 3.9,2.55, 3.6,2.95, 4.3,2.05, 4.15,2.3, 4.25,1.9, 4.15,1.7, 4.05,1.75, 3.95,1.85,
  3.75,1.55, 3.35,1.6, 3.2,1.75,
];
const bBotFitX = [0.92, 5.06];
const bBotOrange = [3.06, 2.4];
const bBotGray = [2.58, 2.9];
const bBotPurple = [3.39, 2.02];

// ---------- C (EXPERIMENT, WT) ----------
const cBotMagenta: [number, number[]][] = [
  [15, [2.45, 2.35, 2.2]],
  [16, [3.1, 2.95, 2.75, 2.68, 2.6, 2.52, 2.45, 2.38, 2.3, 2.22, 2.15, 2.08, 2.0, 1.92, 1.85, 1.75, 1.7, 1.62, 1.45, 1.4]],
  [17, [2.85, 2.78, 2.7, 2.62, 2.55, 2.48, 2.4, 2.32, 2.25, 2.18, 2.1, 2.02, 1.95, 1.88, 1.8, 1.72, 1.65, 1.58, 1.5, 1.42, 1.35, 1.28, 1.2, 1.12, 1.05, 1.0]],
  [18, [2.75, 2.68, 2.6, 2.52, 2.45, 2.38, 2.3, 2.22, 2.15, 2.08, 2.0, 1.92, 1.85, 1.78, 1.7, 1.62, 1.55, 1.48, 1.4, 1.32, 1.25, 1.18, 1.1, 1.02]],
  [19, [2.15, 2.08, 2.0, 1.92, 1.85, 1.78, 1.7, 1.62, 1.5, 1.42, 1.35, 1.25, 1.12, 1.05]],
];
const cBotBlack: [number, number[]][] = [
  [15, [3.9, 3.15]],
  [16, [4.15]],
  [17, [4.98, 4.42, 4.35, 4.28, 4.2, 4.12, 4.05, 3.98, 3.9, 3.82, 3.75, 3.68, 3.6, 3.52, 3.45, 3.38, 3.3, 3.22, 3.15, 3.08, 3.0, 2.92, 2.85, 2.5, 2.42, 2.25]],
  [18, [4.88, 4.8, 4.55, 4.45, 4.38, 4.3, 4.22, 4.15, 4.08, 4.0, 3.93, 3.86, 3.78, 3.71, 3.64, 3.56, 3.49, 3.42, 3.34, 3.27, 3.2, 3.12, 3.05, 2.98, 2.9, 2.83, 2.76, 2.2, 2.1, 1.6]],
  [19, [4.75, 4.6, 4.5, 4.4, 4.35, 4.28, 4.2, 4.13, 4.06, 3.98, 3.91, 3.84, 3.76, 3.69, 3.62, 3.54, 3.47, 3.4, 3.32, 3.25, 3.18, 3.1, 3.03, 2.96, 2.88, 2.81, 2.74, 2.66, 2.59, 2.52, 2.44, 2.37, 2.3, 2.25]],
  [20, [4.58, 4.3, 4.2, 4.12, 4.05, 3.97, 3.9, 3.83, 3.75, 3.68, 3.61, 3.53, 3.46, 3.39, 3.31, 3.24, 3.17, 3.09, 3.02, 2.95, 2.87, 2.8, 2.73, 2.65, 2.58, 2.51, 2.43, 2.36, 2.29, 2.21, 2.14, 2.06, 1.95, 1.88]],
  [21, [4.28, 4.2, 4.1, 4.03, 3.96, 3.88, 3.81, 3.74, 3.66, 3.59, 3.52, 3.44, 3.37, 3.3, 3.22, 3.15, 3.08, 3.0, 2.93, 2.86, 2.78, 2.71, 2.64, 2.56, 2.49, 2.42, 2.34, 2.27, 2.2, 2.12, 2.05, 1.95]],
  [22, [4.0, 3.9, 3.8, 3.7, 3.63, 3.56, 3.48, 3.41, 3.34, 3.26, 3.19, 3.12, 3.04, 2.97, 2.9, 2.82, 2.75, 2.68, 2.6, 2.53, 2.46, 2.38, 2.31, 2.24, 2.16, 2.1]],
  [23, [4.0, 3.88, 3.5, 3.45, 3.35, 3.28, 3.2, 3.13, 3.06, 2.98, 2.91, 2.84, 2.76, 2.69, 2.62, 2.54, 2.47, 2.4, 2.32, 2.25, 2.18, 1.68]],
];

// ---------- D (EXPERIMENT, ΔkaiBC) ----------
const dBotMagenta: [number, number[]][] = [
  [13, [3.75, 3.6, 3.38, 2.95, 2.62, 2.48]],
  [14, [3.45, 3.4, 3.3, 3.05, 2.88, 2.75, 2.55, 2.5, 2.45, 2.18]],
  [15, [3.28, 3.22, 3.15, 3.08, 3.0, 2.92, 2.85, 2.78, 2.7, 2.62, 2.55, 2.48, 2.4, 2.32, 2.25, 2.18, 2.1, 2.02, 1.95, 1.88, 1.8, 1.72, 1.62, 1.55, 1.3]],
  [16, [3.72, 3.42, 3.35, 3.28, 3.2, 3.12, 3.05, 2.98, 2.9, 2.82, 2.75, 2.68, 2.6, 2.52, 2.45, 2.38, 2.3, 2.22, 2.15, 2.08, 2.0, 1.92, 1.85, 1.78, 1.7, 1.62, 1.55, 1.35, 1.25, 1.08]],
  [17, [3.9, 3.42, 3.3, 3.2, 3.1, 2.9, 2.7, 2.5, 2.3, 2.22, 2.15, 2.08, 2.0, 1.92, 1.85, 1.78]],
  [18, [2.72, 2.65, 2.55, 2.45, 2.35, 2.25, 2.15, 2.05, 1.95, 1.85, 1.7, 1.58, 1.42, 1.35]],
  [19, [1.65, 1.32]],
];
const dBotBlack: [number, number[]][] = [
  [4, [3.6, 3.55]],
  [8, [3.42, 1.48]],
  [17, [4.42, 4.3, 4.02, 3.78, 3.7, 3.6, 3.5, 3.42, 3.35, 3.28, 3.2, 3.12, 3.05, 2.98, 2.9, 2.82, 2.75, 2.68, 2.6, 2.52, 2.18]],
  [18, [4.12, 3.92, 3.85, 3.72, 3.62, 3.55, 3.45, 3.38, 3.3, 3.22, 3.15, 3.08, 3.0, 2.92, 2.85, 2.65, 2.5, 2.38, 2.25, 2.1, 2.0, 1.92]],
  [19, [4.15, 4.12, 3.65, 3.55, 3.48, 3.4, 3.32, 3.25, 3.18, 3.1, 3.02, 2.95, 2.88, 2.8, 2.72, 2.65, 2.58, 2.5, 2.42, 2.35, 2.28, 2.2, 2.12, 2.05, 1.98, 1.9, 1.82, 1.75]],
  [20, [4.0, 3.72, 3.65, 3.58, 3.5, 3.42, 3.35, 3.28, 3.2, 3.12, 3.05, 2.98, 2.9, 2.82, 2.75, 2.68, 2.6, 2.52, 2.45, 2.38, 2.3, 2.22, 2.15, 2.08, 2.0, 1.92, 1.85, 1.78, 1.7, 1.62, 1.42, 1.2]],
  [21, [3.75, 3.68, 3.6, 3.53, 3.46, 3.38, 3.31, 3.24, 3.16, 3.09, 3.02, 2.94, 2.87, 2.8, 2.72, 2.65, 2.58, 2.5, 2.43, 2.36, 2.28, 2.21, 2.14, 2.06, 1.99, 1.92, 1.84, 1.77, 1.7, 1.62]],
  [22, [3.7, 3.63, 3.56, 3.48, 3.41, 3.34, 3.26, 3.19, 3.12, 3.04, 2.97, 2.9, 2.82, 2.75, 2.68, 2.6, 2.53, 2.46, 2.38, 2.31, 2.24, 2.16, 2.09, 2.02, 1.94, 1.87, 1.8]],
  [23, [4.35, 4.05, 3.85, 3.7, 3.65, 3.58, 3.5, 3.43, 3.36, 3.28, 3.21, 3.14, 3.06, 2.99, 2.92, 2.84, 2.77, 2.7, 2.62, 2.55, 2.48, 2.4, 2.33, 2.26, 2.2, 2.05, 1.55, 1.38]],
];

// ---------- helpers ----------
type Pt = { x: number; y: number };
const pairs = (a: number[]): Pt[] => {
  const out: Pt[] = [];
  for (let i = 0; i + 1 < a.length; i += 2) out.push({ x: a[i], y: a[i + 1] });
  return out;
};
const cols = (c: [number, number[]][]): Pt[] => c.flatMap(([t, ys]) => ys.map((y) => ({ x: t, y })));

const YW = 50; // y-axis box width
const XH = 52; // x-axis box height
const PT = 10;
const PR = 10;
const DOT = 2.9;

type Fit = { x: number[]; orange: number[]; gray: number[]; purple: number[] };
type PanelCfg = {
  id: string; L: number; R: number; T: number; B: number;
  xMin: number; xMax: number; yMin: number; yMax: number;
  xTicks: number[]; xTitle: string;
  black: Pt[]; magenta: Pt[]; fit?: Fit; shade?: boolean;
};

const panels: PanelCfg[] = [
  { id: 'aTop', L: 92, R: 332, T: 41, B: 279, xMin: 0.9, xMax: 6.11, yMin: 0.92, yMax: 5.2, xTicks: birthTicksA, xTitle: 'birth length (μm)',
    black: pairs([...aTopBlack, ...aTopBlackCore, ...aTopBlackFill]), magenta: pairs(aTopMagenta), fit: { x: aTopFitX, orange: aTopOrange, gray: aTopGray, purple: aTopPurple } },
  { id: 'bTop', L: 432, R: 672, T: 41, B: 279, xMin: 0.92, xMax: 5.09, yMin: 0.92, yMax: 5.22, xTicks: birthTicksB, xTitle: 'birth length (μm)',
    black: pairs([...bTopBlack, ...bTopBlackCore, ...bTopBlackFill]), magenta: pairs(bTopMagenta), fit: { x: bTopFitX, orange: bTopOrange, gray: bTopGray, purple: bTopPurple } },
  { id: 'cTop', L: 777, R: 1008, T: 49, B: 278, xMin: 0, xMax: 24.25, yMin: 1, yMax: 5, xTicks: timeTicks, xTitle: 'time at birth (h)',
    black: cols(cTopBlack), magenta: cols(cTopMagenta), shade: true },
  { id: 'dTop', L: 1115, R: 1345, T: 48, B: 277, xMin: 0, xMax: 24.05, yMin: 1, yMax: 5, xTicks: timeTicks, xTitle: 'time at birth (h)',
    black: cols(dTopBlack), magenta: cols(dTopMagenta), shade: true },
  { id: 'aBot', L: 92, R: 332, T: 375, B: 615, xMin: 0.9, xMax: 6.11, yMin: 0.91, yMax: 5.22, xTicks: birthTicksA, xTitle: 'birth length (μm)',
    black: pairs([...aBotBlack, ...aBotBlackCore, ...aBotBlackFill]), magenta: pairs(aBotMagenta), fit: { x: aBotFitX, orange: aBotOrange, gray: aBotGray, purple: aBotPurple } },
  { id: 'bBot', L: 432, R: 670, T: 378, B: 615, xMin: 0.92, xMax: 5.06, yMin: 0.91, yMax: 5.16, xTicks: birthTicksB, xTitle: 'birth length (μm)',
    black: pairs([...bBotBlack, ...bBotBlackCore, ...bBotBlackFill]), magenta: pairs(bBotMagenta), fit: { x: bBotFitX, orange: bBotOrange, gray: bBotGray, purple: bBotPurple } },
  { id: 'cBot', L: 777, R: 1007, T: 384, B: 614, xMin: 0, xMax: 24.15, yMin: 1, yMax: 5, xTicks: timeTicks, xTitle: 'time at birth (μm)',
    black: cols(cBotBlack), magenta: cols(cBotMagenta), shade: true },
  { id: 'dBot', L: 1116, R: 1346, T: 385, B: 615, xMin: 0, xMax: 24.05, yMin: 1, yMax: 5, xTicks: timeTicks, xTitle: 'time at birth (h)',
    black: cols(dBotBlack), magenta: cols(dBotMagenta), shade: true },
];

const shadePlugin = {
  id: 'shade',
  beforeDraw(chart: any) {
    const { ctx, scales } = chart;
    const x = scales.x, y = scales.y;
    const x0 = x.getPixelForValue(nightShade[0]);
    const x1 = x.getPixelForValue(nightShade[1]);
    const y0 = y.getPixelForValue(y.max);
    const y1 = y.getPixelForValue(y.min);
    ctx.save();
    ctx.fillStyle = '#cccccc';
    ctx.fillRect(x0, y0, x1 - x0, y1 - y0);
    ctx.restore();
  },
};

function axis(min: number, max: number, ticks: number[], title: string, isX: boolean) {
  return {
    type: 'linear',
    min,
    max,
    afterBuildTicks: (s: any) => { s.ticks = ticks.map((v) => ({ value: v })); },
    afterFit: (s: any) => { if (isX) s.height = XH; else s.width = YW; },
    grid: { display: false, drawTicks: false },
    border: { display: true, color: '#000000', width: 2 },
    ticks: {
      color: TXT,
      font: { family: FONT, size: 17 },
      padding: isX ? 6 : 3,
      autoSkip: false,
      maxRotation: 0,
      callback: (v: any) => String(v),
    },
    title: {
      display: true,
      text: title,
      color: TXT,
      font: { family: FONT, size: 19 },
      padding: isX ? { top: 0, bottom: 1 } : { top: 7, bottom: 0 },
    },
  };
}

function lineDs(xs: number[], ys: number[], color: string) {
  return {
    type: 'line',
    data: [{ x: xs[0], y: ys[0] }, { x: xs[1], y: ys[1] }],
    borderColor: color,
    backgroundColor: color,
    borderWidth: 4,
    pointRadius: 0,
    fill: false,
    tension: 0,
    borderCapStyle: 'butt',
  };
}

function pointDs(data: Pt[], color: string) {
  return {
    type: 'scatter',
    data,
    backgroundColor: color,
    pointBackgroundColor: color,
    borderWidth: 0,
    pointBorderWidth: 0,
    pointRadius: DOT,
  };
}

function Panel({ cfg }: { cfg: PanelCfg }) {
  const ref = useRef<HTMLCanvasElement>(null);
  const W = cfg.R - cfg.L + YW + PR;
  const H = cfg.B - cfg.T + PT + XH;
  useEffect(() => {
    if (!ref.current) return;
    const datasets: any[] = [];
    if (cfg.fit) {
      datasets.push(lineDs(cfg.fit.x, cfg.fit.orange, ORANGE));
      datasets.push(lineDs(cfg.fit.x, cfg.fit.gray, GRAY));
      datasets.push(lineDs(cfg.fit.x, cfg.fit.purple, PURPLE));
    }
    datasets.push(pointDs(cfg.black, '#000000'));
    datasets.push(pointDs(cfg.magenta, MAGENTA));
    const chart = new Chart(ref.current, {
      type: 'scatter',
      data: { datasets },
      options: {
        responsive: false,
        animation: false,
        devicePixelRatio: 1,
        events: [],
        layout: { padding: { top: PT, right: PR, left: 0, bottom: 0 } },
        plugins: { legend: { display: false }, tooltip: { enabled: false } },
        scales: {
          x: axis(cfg.xMin, cfg.xMax, cfg.xTicks, cfg.xTitle, true),
          y: axis(cfg.yMin, cfg.yMax, lenTicks, 'added length (μm)', false),
        },
      } as any,
      plugins: cfg.shade ? [shadePlugin as any] : [],
    } as any);
    return () => chart.destroy();
  }, []);
  return (
    <canvas
      ref={ref}
      width={W}
      height={H}
      style={{ position: 'absolute', left: cfg.L - YW, top: cfg.T - PT, width: W, height: H }}
    />
  );
}

const letterStyle = (left: number, top: number): React.CSSProperties => ({
  position: 'absolute', left, top, fontSize: 30, lineHeight: 1, color: '#000', fontFamily: FONT,
});
const strainStyle = (left: number, top: number, color: string): React.CSSProperties => ({
  position: 'absolute', left, top, fontSize: 19, lineHeight: 1, color, fontFamily: FONT, whiteSpace: 'nowrap',
});
const rowStyle = (cx: number, cy: number): React.CSSProperties => ({
  position: 'absolute', left: cx, top: cy, transform: 'translate(-50%, -50%) rotate(-90deg)',
  fontSize: 23, fontWeight: 700, lineHeight: 1, color: '#000', fontFamily: FONT, whiteSpace: 'nowrap',
});

const RED = '#ff0000';
const BLUE = '#0a0aff';

function Kai({ left, top }: { left: number; top: number }) {
  return (
    <div style={strainStyle(left, top, BLUE)}>
      <span>Δ</span><i>kaiBC</i>
    </div>
  );
}

export default function App() {
  return (
    <div style={{ position: 'absolute', left: 0, top: 0, width: 1355, height: 665, background: '#ffffff', overflow: 'hidden' }}>
      {panels.map((p) => <Panel key={p.id} cfg={p} />)}
      <div style={letterStyle(43, 10)}>A</div>
      <div style={letterStyle(366, 10)}>B</div>
      <div style={letterStyle(716, 10)}>C</div>
      <div style={letterStyle(1053, 10)}>D</div>
      <div style={strainStyle(87, 13, RED)}>WT</div>
      <Kai left={403} top={13} />
      <div style={strainStyle(773, 13, RED)}>WT</div>
      <Kai left={1095} top={13} />
      <div style={strainStyle(90, 345, RED)}>WT</div>
      <Kai left={407} top={345} />
      <div style={strainStyle(774, 345, RED)}>WT</div>
      <Kai left={1098} top={345} />
      <div style={rowStyle(22.5, 153)}>MODEL</div>
      <div style={rowStyle(22.5, 490)}>EXPERIMENT</div>
    </div>
  );
}
